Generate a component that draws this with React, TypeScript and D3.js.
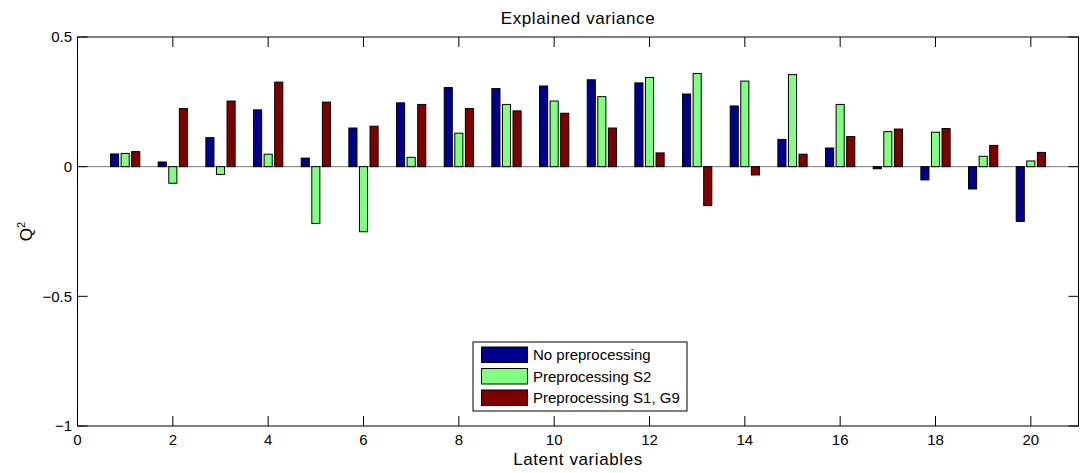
import * as d3 from "d3";

// latent variable index and Q2 per preprocessing
const latent = [1, 2, 3, 4, 5, 6, 7, 8, 9, 10, 11, 12, 13, 14, 15, 16, 17, 18, 19, 20];
const noPre = [0.049, 0.018, 0.112, 0.219, 0.033, 0.149, 0.246, 0.305, 0.301, 0.311, 0.335, 0.323, 0.28, 0.234, 0.105, 0.072, -0.008, -0.051, -0.086, -0.211];
const preS2 = [0.051, -0.064, -0.03, 0.048, -0.219, -0.251, 0.036, 0.129, 0.24, 0.253, 0.27, 0.344, 0.359, 0.33, 0.355, 0.24, 0.135, 0.133, 0.04, 0.022];
const preS1G9 = [0.058, 0.224, 0.253, 0.326, 0.249, 0.156, 0.24, 0.224, 0.215, 0.206, 0.149, 0.053, -0.15, -0.032, 0.048, 0.116, 0.145, 0.147, 0.082, 0.055];
const seriesNames = ["No preprocessing", "Preprocessing S2", "Preprocessing S1, G9"];
const xTicks = [0, 2, 4, 6, 8, 10, 12, 14, 16, 18, 20];
const yTicks = [0.5, 0, -0.5, -1];

const colors = ["#00008f", "#80ff80", "#800000"];
const series = [noPre, preS2, preS1G9];

const W = 1081;
const H = 473;
const left = 77.5;
const right = 1078.5;
const top = 37;
const bottom = 426;
const font = "'Liberation Sans', Arial, Helvetica, sans-serif";

export default function App() {
  const x = d3.scaleLinear().domain([0, 21]).range([left, right]);
  const y = d3.scaleLinear().domain([-1, 0.5]).range([bottom, top]);
  const offsets = [-0.222, 0, 0.222];
  const barW = 0.17;
  const tickLen = 10;
  const fmt = (v) => (v < 0 ? "\u2212" + String(-v) : String(v));

  const legX = 473;
  const legY = 342;
  const legW = 214;
  const legH = 69;
  const rowH = 21.5;

  return (
    <svg
      width={W}
      height={H}
      style={{ position: "absolute", left: 0, top: 0, background: "#fff" }}
      fontFamily={font}
    >
      <rect x={0} y={0} width={W} height={H} fill="#fff" />
      {/* zero baseline */}
      <line x1={left} x2={right} y1={y(0)} y2={y(0)} stroke="#777" strokeWidth={1} />
      {series.map((vals, s) =>
        vals.map((v, i) => {
          const x0 = x(latent[i] + offsets[s] - barW / 2);
          const x1 = x(latent[i] + offsets[s] + barW / 2);
          return (
            <rect
              key={s + "-" + i}
              x={x0}
              width={x1 - x0}
              y={Math.min(y(v), y(0))}
              height={Math.abs(y(v) - y(0))}
              fill={colors[s]}
              stroke="#000"
              strokeWidth={1}
            />
          );
        })
      )}
      {/* box */}
      <rect x={left} y={top} width={right - left} height={bottom - top} fill="none" stroke="#000" strokeWidth={1} />
      {xTicks.map((t) => (
        <g key={"xt" + t}>
          <line x1={x(t)} x2={x(t)} y1={bottom} y2={bottom - tickLen} stroke="#000" />
          <line x1={x(t)} x2={x(t)} y1={top} y2={top + tickLen} stroke="#000" />
          <text x={x(t)} y={445} fontSize={15} textAnchor="middle" fill="#000">
            {t}
          </text>
        </g>
      ))}
      {yTicks.map((t) => (
        <g key={"yt" + t}>
          <line x1={left} x2={left + tickLen} y1={y(t)} y2={y(t)} stroke="#000" />
          <line x1={right} x2={right - tickLen} y1={y(t)} y2={y(t)} stroke="#000" />
          <text x={72} y={y(t)} dy="0.35em" fontSize={15} textAnchor="end" fill="#000">
            {fmt(t)}
          </text>
        </g>
      ))}
      <text x={578} y={24} fontSize={17} letterSpacing={0.6} textAnchor="middle" fill="#000">
        Explained variance
      </text>
      <text x={578} y={465} fontSize={17} letterSpacing={0.6} textAnchor="middle" fill="#000">
        Latent variables
      </text>
      <text transform={`translate(32,${(top + bottom) / 2}) rotate(-90)`} fontSize={17} textAnchor="middle" fill="#000">
        Q<tspan fontSize={11} dy={-7}>2</tspan>
      </text>
      {/* legend */}
      <rect x={legX} y={legY} width={legW} height={legH} fill="#fff" stroke="#000" strokeWidth={1} />
      {seriesNames.map((name, i) => (
        <g key={name}>
          <rect x={481.5} y={legY + 5 + i * rowH} width={46} height={15.5} fill={colors[i]} stroke="#000" />
          <text x={533} y={legY + 12.8 + i * rowH} dy="0.35em" fontSize={15} fill="#000">
            {name}
          </text>
        </g>
      ))}
    </svg>
  );
}
